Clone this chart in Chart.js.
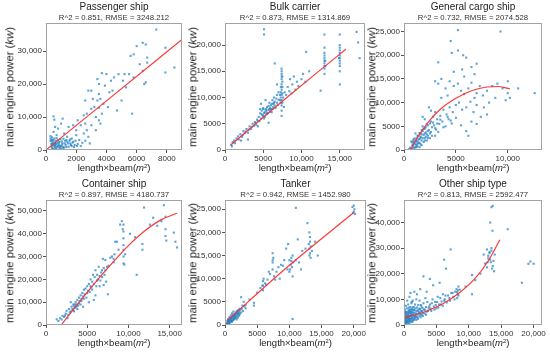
<!DOCTYPE html>
<html>
<head>
<meta charset="utf-8">
<script src="https://cdn.jsdelivr.net/npm/chart.js@4.4.0/dist/chart.umd.min.js"></script>
<style>
body { margin: 0; width: 550px; height: 353px; overflow: hidden; position: relative; background: #fff;
       font-family: "Liberation Sans", Arial, sans-serif; color: #222; }
canvas { position: absolute; }
.lbl { position: absolute; white-space: nowrap; transform: translate(-50%, -50%); line-height: 1; }
.ttl { font-size: 10px; }
.sub { font-size: 7.8px; color: #333; }
.xt { font-size: 9.5px; }
.yt { font-size: 11.3px; transform: translate(-50%, -50%) rotate(-90deg); }
sup { font-size: 60%; vertical-align: 0.5em; line-height: 0; }
</style>
</head>
<body>
<script>
// ---- data ----
const titles = ["Passenger ship", "Bulk carrier", "General cargo ship", "Container ship", "Tanker", "Other ship type"];
const subtitles = ["R^2 = 0.851, RMSE = 3248.212", "R^2 = 0.873, RMSE = 1314.869", "R^2 = 0.732, RMSE = 2074.528",
                   "R^2 = 0.897, RMSE = 4180.737", "R^2 = 0.942, RMSE = 1452.980", "R^2 = 0.813, RMSE = 2592.477"];
const xMax = [9000, 18300, 13300, 16500, 21900, 21300];
const yMax = [38500, 24200, 26800, 54800, 27000, 48800];
const xTicks = [[0, 2000, 4000, 6000, 8000], [0, 5000, 10000, 15000], [0, 5000, 10000],
                [0, 5000, 10000, 15000], [0, 5000, 10000, 15000, 20000], [0, 5000, 10000, 15000, 20000]];
const yTicks = [[0, 10000, 20000, 30000], [0, 5000, 10000, 15000, 20000], [0, 5000, 10000, 15000, 20000, 25000],
                [0, 10000, 20000, 30000, 40000, 50000], [0, 5000, 10000, 15000, 20000, 25000], [0, 10000, 20000, 30000, 40000]];

const passengerPts = [[7300,36500],[6400,32500],[6600,32000],[6000,31500],[7900,31000],[8500,25000],[7900,23500],[5800,29000],[5600,28500],[6700,28000],[6700,26500],[6200,26000],[6400,24000],[6600,20500],[6500,20000],[5800,22000],[5500,23000],[5200,23000],[4800,23000],[5100,21000],[5700,11000],[4000,23000],[3700,23300],[4500,22000],[4300,21000],[3400,21500],[3500,20000],[3000,18000],[2800,18000],[3500,17000],[3900,19500],[4200,17500],[3400,15000],[3600,15500],[3200,13000],[3000,12500],[3500,12800],[3700,11000],[3300,10000],[4100,13000],[3800,14000],[3500,9000],[2700,11000],[2600,8000],[2500,10500],[2300,7500],[2100,9000],[2000,6000],[1800,7500],[1500,7000],[1100,9500],[1000,8000],[500,10200],[550,9200],[800,6500],[600,7000],[500,5500],[700,4500],[1200,5000],[1400,4000],[1700,3500],[2000,4500],[2200,3000],[2500,5000],[2800,4000],[3000,7500],[3300,6000],[3600,8000],[1600,2000],[1900,1500],[2300,1200],[1300,1500],[1000,1200],[900,2500],[800,3000],[700,1800],[600,800],[500,400],[400,2000],[300,3500],[300,4200],[350,1000],[400,3000],[450,2500],[500,3000],[600,2200],[700,3600],[800,1000],[900,500],[1000,300],[1100,2000],[1200,800],[1400,2500],[1500,1000],[1700,1200],[1800,2500],[2100,1800],[2400,2200],[2600,2800],[2900,2000],[400,500],[300,2700],[550,1500],[650,2800],[750,2300],[850,1600],[950,3300],[1050,2600],[1150,3400],[1250,2000],[1350,3000],[1600,3200],[2700,6000],[4700,12000],[5000,15000],[4400,18000],[5300,19000],[3100,15500],[2600,15000],[450,1200],[350,1800],[600,1300],[700,700],[900,1300],[1100,1000],
  [350,3000],[400,3800],[450,200],[500,2000],[550,3500],[600,1800],[650,400],[750,1200],[850,2200],[950,900],[1050,1700],[1150,600],[1250,2800],[1350,900],[1450,2000],[1550,2800],[1650,1500],[1750,2200],[1850,900],[1950,2800],[2050,1200]];
const passengerFit = [[0,0],[4000,14900],[9000,33500]];

const bulkPts = [[800,1000],[900,700],[1000,1500],[1200,1800],[1500,2200],[1700,2600],[2000,3000],[2200,2500],[2400,3600],[2600,3200],[2800,4000],[3000,3300],[3200,4500],[3400,4000],[3600,5000],[3800,4600],[4000,5200],[4200,5800],[4400,6300],[4500,5500],[4600,7000],[4800,7500],[4900,6600],[5000,8000],[5100,6000],[5200,7200],[5300,7700],[5400,6800],[5500,8200],[5600,7000],[5700,7600],[5800,9000],[5900,8000],[6000,8500],[6100,7200],[6200,9500],[6300,8800],[6400,10000],[6500,9200],[6600,8000],[6700,9800],[6800,10500],[6900,8600],[7000,11000],[7200,9500],[7400,6500],[7400,7500],[7400,8500],[7400,9500],[7400,10500],[7400,11500],[7400,12500],[7400,13500],[7400,14500],[7400,15500],[7500,9000],[7500,12000],[7600,10000],[7700,8200],[7800,11000],[8000,10500],[8200,12000],[8400,11200],[8500,13500],[8700,10800],[8800,12500],[9000,14000],[9200,11500],[9400,13000],[9600,12200],[10000,13500],[10200,14500],[10500,13000],[10600,18700],[11000,15000],[12500,11300],[13000,14500],[13000,15500],[13000,16500],[13000,17500],[13000,18500],[13000,19500],[13100,16000],[13100,17000],[13000,22000],[15000,15000],[15000,16000],[15000,17000],[15000,18000],[15000,19000],[15000,20000],[15000,22000],[15000,12500],[14900,17500],[17200,22500],[17400,20500],[17600,17500],[5100,23000],[5100,22000],[6500,16500],[3000,2000],[4300,4500],[5700,5200],[4700,8800],[5300,9500],[6800,12500],[2100,1800],[4600,7800],[5000,7800],[5400,7800],[5800,7800],[6200,7800],[7300,10000],[7300,12000],[7500,14000],
  [1300,1300],[1800,2000],[2300,2800],[2700,3500],[3100,3900],[3500,4400],[3900,5300],[4100,4800],[4300,5500],[4700,6000],[4800,6800],[5000,6500],[5100,7000],[5200,6300],[5400,7400],[5500,7000],[5700,8400],[5900,7300],[6000,7800],[6100,8800],[6300,8200],[6400,9000],[6500,8500],[6800,9000],[7000,9600],[7200,10500],[7300,11000],[7300,9000],[7500,10800],[7500,13000],[7400,14000],[7400,15000],[13000,16000],[13000,17000],[13000,18000],[15000,16500],[15000,17500],[15000,18500],[15000,19500]];
const bulkFit = [[800,1000],[4000,5000],[8000,9900],[12000,14700],[15800,19200]];

const cargoPts = [[5200,25300],[9300,25000],[4500,23000],[5700,20000],[6000,19500],[5200,21000],[4600,20500],[3300,18500],[7000,18200],[6500,17500],[3000,14500],[3300,14000],[3600,15000],[4000,13000],[4400,14500],[4800,13500],[5200,14000],[5500,12500],[5800,15500],[6200,13000],[6500,14200],[7000,12000],[7300,13500],[7600,11500],[8000,12500],[8500,13500],[9000,14000],[9500,13000],[10000,14500],[10000,12000],[10200,11000],[9800,10500],[8800,11000],[8200,10000],[7700,9000],[7000,9500],[6800,11000],[6400,10200],[6000,9000],[5600,8500],[5300,10000],[5000,9500],[4700,8000],[4400,9000],[4100,7500],[3800,8500],[3500,7200],[3200,6500],[3000,8000],[2800,7000],[2600,6000],[2400,9000],[2200,5500],[2000,4500],[1800,5000],[1600,3500],[1400,3000],[1200,2500],[1000,1500],[800,1000],[600,500],[500,200],[700,1800],[900,2200],[1100,3500],[1300,1800],[1500,2300],[1700,4200],[1900,3200],[2100,2800],[2300,4000],[2500,3500],[2700,4800],[2900,5200],[3100,4300],[3400,5500],[3700,6000],[4000,5000],[4300,6500],[4600,5600],[5000,6800],[5500,5200],[6000,4000],[6200,3000],[6500,6000],[3600,11000],[4200,11500],[5800,11800],[6700,8000],[7400,7000],[8000,7500],[1000,400],[1300,800],[1600,1200],[1900,1700],[2200,2000],[800,300],[1200,1000],[1500,600],[2500,2500],[3000,3000],[2000,6500],[2600,8300],[1800,7000],[12600,12000],[11000,13000],[6800,16000],[4800,16500],[5600,17000],[7000,5500],[1100,1200],[1400,1500],[1700,2000],[2000,2500],[2300,3000],[900,700],[1600,2600],[2100,3700],
  [700,300],[800,1600],[900,1200],[1000,2400],[1100,600],[1100,2000],[1200,1800],[1300,3000],[1300,1300],[1400,2200],[1500,3600],[1500,1500],[1600,2800],[1700,1000],[1700,3300],[1800,2500],[1800,4000],[1900,4500],[2000,2000],[2000,3500],[2100,4800],[2200,3300],[2300,2500],[2300,5200],[2400,4200],[2500,5600],[2600,3800],[2700,3000],[2800,5800],[3000,4600],[3200,5600],[3300,3800],[3500,6400],[3800,4800],[4200,7000],[4500,6200],[900,1800],[1200,600]];
const cargoFit = [[600,0],[1500,3300],[2500,6300],[3500,8600],[5000,10900],[6500,12500],[8000,13300],[9000,13400],[10200,12900]];

const containerPts = [[1300,2500],[1500,1800],[1700,3000],[1900,2400],[2000,4000],[2200,3500],[2400,5000],[2500,6200],[2700,4500],[2800,7000],[3000,6000],[3100,8000],[3200,7000],[3300,9000],[3400,8200],[3500,7500],[3600,10000],[3700,9000],[3800,11000],[3900,8500],[4000,12000],[4100,10500],[4200,13000],[4300,11500],[4400,14000],[4500,12500],[4600,15500],[4700,13500],[4800,16000],[4900,12000],[5000,17000],[5100,15000],[5200,18000],[5300,14500],[5400,20000],[5500,16500],[5600,19000],[5700,22000],[5800,18000],[5900,21000],[6000,24000],[6100,17000],[6200,22000],[6300,20000],[6400,25500],[6500,21500],[6600,19500],[6700,23000],[6800,24000],[6900,29000],[7000,25000],[7100,22000],[7200,28500],[7300,19000],[7400,25500],[7600,26000],[7800,29500],[8000,30000],[8200,27500],[8300,31000],[8400,36500],[8600,36500],[8800,33000],[9000,44000],[9200,45500],[9300,42000],[9400,38000],[9400,35000],[9400,30000],[9400,27000],[9500,26500],[9600,31000],[10200,40000],[10800,38500],[11000,22000],[11700,33000],[11700,35500],[11900,51500],[12600,44000],[13000,47000],[13500,43500],[14000,45500],[14300,52500],[14500,47500],[14500,42000],[14500,39000],[14600,37000],[15500,40500],[15900,34000],[15700,36500],[6000,13000],[5200,10000],[6500,17000],[7000,17500],[4500,8000],[3000,10000],[2600,3000],[7500,13500],[5800,11000],[3400,6000],[3800,7000],[4200,9000],
  [2300,4200],[2900,5500],[3300,6500],[3500,9000],[3700,8000],[4000,9500],[4300,10500],[4600,11500],[5000,14000],[5400,17000],[5600,15500],[6200,19500],[6800,21000],[7200,24000],[8200,29000],[9400,33000],[9400,41000],[9400,44000]];
const containerFit = [[1850,0],[4000,9900],[6000,18700],[8000,27000],[10000,34800],[12000,41300],[14000,46200],[15900,49000]];

const tankerPts = [[300,300],[400,800],[500,500],[600,1000],[700,600],[800,1300],[900,900],[1000,1500],[1100,700],[1200,1800],[1300,1100],[1400,2000],[1500,1400],[1600,2300],[1700,1600],[1800,2600],[1900,1900],[2000,2800],[2100,2200],[2200,3000],[2300,2400],[2400,3300],[2500,2700],[2600,3500],[2800,3000],[3000,4000],[3200,3600],[400,200],[600,300],[800,500],[1000,800],[1200,1000],[1400,1300],[1600,1600],[1800,1200],[2000,1600],[2200,2000],[500,1300],[700,1700],[900,2100],[1100,2500],[1300,2900],[2700,4200],[2900,5000],[3200,4300],[4500,4800],[4500,4200],[3800,5500],[2500,6000],[5000,7000],[5500,8000],[5800,8500],[5900,9500],[5900,7500],[6000,10000],[6200,9000],[6400,8700],[6600,9800],[7000,11000],[7400,13500],[7400,15500],[7400,12000],[7500,14500],[7600,10500],[7800,9800],[8000,11500],[8300,12500],[8700,13000],[9000,12800],[9200,14000],[9500,16500],[9800,17500],[9700,12000],[10000,14000],[10000,11500],[10200,13000],[10300,14500],[10400,12500],[10500,10500],[10500,15000],[10600,13500],[11000,25300],[11000,14000],[11300,18500],[11500,13500],[11800,12000],[12000,16000],[12500,16500],[12800,22000],[13000,17500],[13100,20000],[13200,19000],[13200,15500],[13300,14500],[13300,17000],[13500,16000],[14000,18000],[14400,15000],[10500,1300],[19800,25500],[20000,24500],[20100,25000],[20200,24000],[19900,24200],[20000,25800],[8500,10000],[6800,11500],
  [350,500],[450,1000],[550,700],[650,1300],[750,900],[850,1500],[950,1200],[1050,1800],[1150,1400],[1250,2100],[1350,1700],[1450,2400],[1550,1900],[1650,2700],[1750,2200],[1850,3000],[1950,2400],[2050,3200],[2150,2600],[2250,3500],[13100,15000],[13100,16500],[13200,18000],[10300,13800],[10100,12000],[7400,14000],[5900,8500]];
const tankerFit = [[300,900],[10000,12900],[20000,24300]];

const otherPts = [[100,1500],[100,3000],[100,4500],[150,6000],[200,800],[200,2200],[250,3800],[300,5200],[300,7500],[350,1200],[400,2800],[400,4200],[450,6500],[500,9500],[500,1800],[550,3300],[600,5000],[650,8000],[700,600],[700,2500],[750,4000],[800,6000],[850,11000],[900,1500],[900,3500],[950,5500],[1000,7000],[1000,12500],[1100,2200],[1100,4300],[1150,8500],[1200,3000],[1200,6200],[1300,1200],[1300,5000],[1350,9500],[1400,3800],[1500,2500],[1500,7000],[1600,4800],[1600,13000],[1700,3200],[1700,8000],[1800,5600],[1900,2000],[1900,10000],[2000,4200],[2000,6800],[2100,3000],[2200,7800],[2300,5000],[2400,3600],[2400,9500],[2500,6200],[2600,4300],[2700,7200],[2800,5500],[2900,3500],[3000,8500],[3100,6000],[3200,4500],[3300,10500],[3400,7000],[3500,5200],[3600,9000],[3800,6500],[4000,18000],[4000,8000],[4200,5500],[4400,10000],[4500,15500],[4600,7200],[4800,9000],[5000,6500],[5200,11000],[5400,8000],[5500,16500],[5600,10500],[5800,9200],[6000,12000],[6000,7500],[6200,25500],[6300,10000],[6500,22000],[6600,8800],[6800,11500],[7000,10500],[7200,29500],[7300,12500],[7600,11000],[7900,13000],[8200,10500],[8300,12000],[8300,13500],[8400,15000],[8400,11500],[8600,13800],[3000,19000],[2500,14000],[3500,13000],[9500,15000],[10500,19500],[11000,17500],[10500,12000],[11800,20000],[12300,27500],[12500,24000],[12800,29500],[12800,22500],[13000,26000],[13200,28500],[13300,40000],[13400,24500],[13500,30000],[13600,22000],[13700,46500],[13500,46000],[13650,36800],[16000,37400],[13200,28000],[13000,27000],[13500,29000],[13800,25000],[13700,23000],[13900,21000],[14000,27500],[13300,25500],[12900,24500],[18200,16500],[19200,23900],[19500,24800],[20000,23900],[200,3300],[600,3700],[800,2000],[1000,4800],[1400,5800],[1800,3800],[2200,5800],[2600,7800],[300,900],[700,5500],[1200,9000],[2000,12000],
  [150,2000],[250,1000],[250,5000],[350,2500],[350,4500],[450,1500],[450,3500],[550,600],[550,2200],[650,1200],[650,3000],[650,4600],[750,1800],[750,6800],[850,2800],[850,4800],[950,1000],[950,2400],[1050,3600],[1050,6000],[1150,1500],[1150,5200],[1250,2600],[1250,4000],[1350,1800],[1350,6800],[1450,3000],[1450,4500],[1550,2000],[1550,5800],[1650,3600],[1750,2600],[1750,6500],[1850,4500],[1950,3200],[2050,5400],[2150,2400],[2250,4200],[2350,6400],[2450,4800],[2550,3000],[2650,5400],[2750,3800],[2850,6600],[2950,4600],[3200,6000],[3400,4000],[3700,5500],[3900,7200],[4100,6400],[4300,8500],[4700,6000],[4900,7800],[5100,9000],[5300,6800],[5700,8000],[6200,9500],[6400,11500],[7100,9500],[7500,12500],[7800,10000],[8100,14000],[8200,12800]];
const otherFit = [[0,2800],[3000,5000],[6000,8300],[8500,12500],[11000,18300],[13000,25000],[14800,33300]];

const panelPts = [passengerPts, bulkPts, cargoPts, containerPts, tankerPts, otherPts];
const panelFit = [passengerFit, bulkFit, cargoFit, containerFit, tankerFit, otherFit];

// ---- layout (page pixels) ----
const colLeft = [0, 183, 366];
const rowTop = [0, 176];
const rowH = [176, 177];
const plots = [
  {l: 46, r: 182, t: 23, b: 150}, {l: 225, r: 365, t: 23, b: 150}, {l: 404, r: 542, t: 23, b: 150},
  {l: 46, r: 182, t: 200, b: 325}, {l: 225, r: 366, t: 200, b: 325}, {l: 404, r: 542, t: 200, b: 325}
];

const frame = {
  id: 'frame',
  afterDatasetsDraw(chart) {
    const a = chart.chartArea, ctx = chart.ctx;
    ctx.save();
    ctx.strokeStyle = '#a3a3a3';
    ctx.lineWidth = 1;
    ctx.strokeRect(Math.round(a.left) + 0.5, Math.round(a.top) + 0.5,
                   Math.round(a.right - a.left) - 1, Math.round(a.bottom - a.top) - 1);
    ctx.restore();
  }
};

function fmt(v) {
  return v >= 10000 ? v.toLocaleString('en-US') : String(v);
}

function addLabel(cls, html, x, y) {
  const d = document.createElement('div');
  d.className = 'lbl ' + cls;
  d.innerHTML = html;
  d.style.left = x + 'px';
  d.style.top = y + 'px';
  document.body.appendChild(d);
}

const tickFont = { size: 8, family: '"Liberation Sans", Arial, sans-serif' };

for (let i = 0; i < 6; i++) {
  const col = i % 3, row = Math.floor(i / 3);
  const p = plots[i];
  const cl = colLeft[col], ct = rowTop[row], h = rowH[row];
  const w = p.r - cl + 8;

  const c = document.createElement('canvas');
  c.width = w; c.height = h;
  c.style.left = cl + 'px'; c.style.top = ct + 'px';
  document.body.appendChild(c);

  new Chart(c, {
    type: 'scatter',
    data: {
      datasets: [
        { data: panelFit[i], showLine: true, borderColor: 'rgba(255,45,45,0.95)', borderWidth: 1.2,
          pointRadius: 0, cubicInterpolationMode: 'monotone', order: 0 },
        { data: panelPts[i], pointStyle: 'rect', pointRadius: 1.5, borderWidth: 0,
          backgroundColor: 'rgba(28,125,195,0.7)', order: 1 }
      ]
    },
    options: {
      responsive: false,
      animation: false,
      devicePixelRatio: 1,
      layout: { padding: { left: 0, right: 8, top: p.t - ct, bottom: 0 } },
      plugins: { legend: { display: false }, tooltip: { enabled: false } },
      scales: {
        x: {
          type: 'linear', min: 0, max: xMax[i],
          grid: { drawOnChartArea: false, drawTicks: true, tickLength: 3, color: '#555' },
          border: { display: false },
          ticks: { padding: 1, maxRotation: 0, autoSkip: false, color: '#333', font: tickFont, callback: v => fmt(v) },
          afterBuildTicks: s => { s.ticks = xTicks[i].map(v => ({ value: v })); },
          afterFit: s => { s.height = ct + h - p.b; }
        },
        y: {
          type: 'linear', min: 0, max: yMax[i],
          grid: { drawOnChartArea: false, drawTicks: true, tickLength: 3, color: '#555' },
          border: { display: false },
          ticks: { padding: 1, autoSkip: false, color: '#333', font: tickFont, callback: v => fmt(v) },
          afterBuildTicks: s => { s.ticks = yTicks[i].map(v => ({ value: v })); },
          afterFit: s => { s.width = p.l - cl; }
        }
      }
    },
    plugins: [frame]
  });

  const cx = (p.l + p.r) / 2;
  addLabel('ttl', titles[i], cx, p.t - 16);
  addLabel('sub', subtitles[i], cx, p.t - 5);
  addLabel('xt', 'length×beam(<i>m</i><sup>2</sup>)', cx, p.b + 18);
  addLabel('yt', 'main engine power (<i>kw</i>)', cl + (col === 2 ? 6 : 10), (p.t + p.b) / 2);
}
</script>
</body>
</html>
